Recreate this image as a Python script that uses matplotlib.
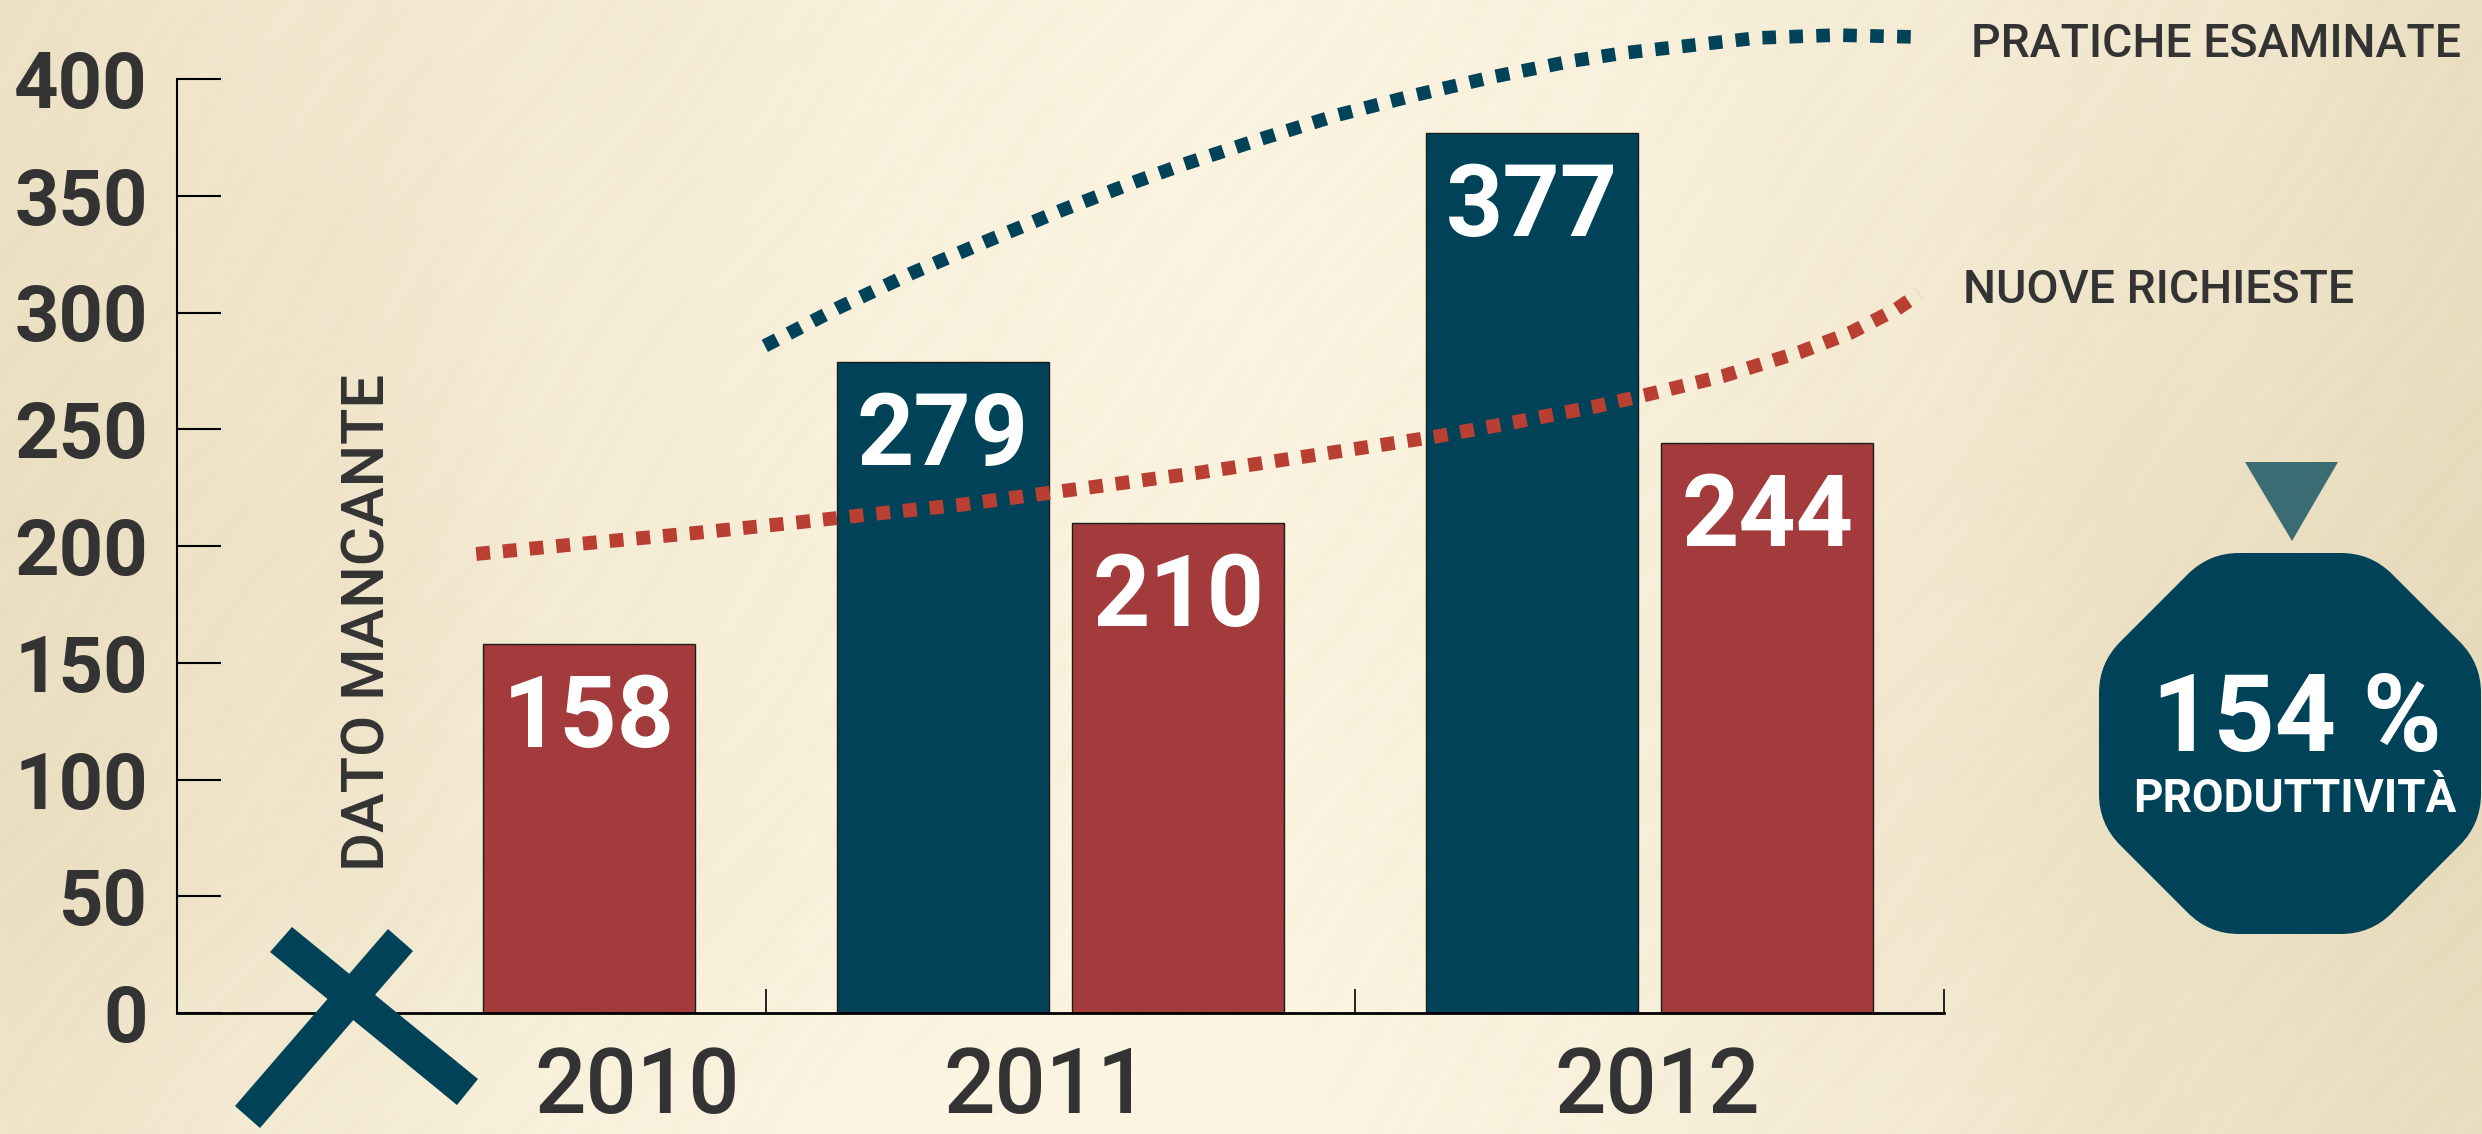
#!/usr/bin/env python
import numpy as np
import matplotlib
matplotlib.use("Agg")
import matplotlib.pyplot as plt
from matplotlib.patches import Polygon, PathPatch
from matplotlib.path import Path

# data
years = ["2010", "2011", "2012"]
esaminate_years = [1, 2]
esaminate = [279, 377]
richieste_years = [0, 1, 2]
richieste = [158, 210, 244]

# dotted trend lines, x is in year slots (0 to 3)
line_esam_x = [0.998, 1.126, 1.248, 1.375, 1.499, 1.626, 1.711, 1.840, 1.971,
               2.102, 2.234, 2.368, 2.455, 2.683, 2.817, 2.951]
line_esam_y = [285.7, 302.4, 316.9, 330.6, 343.5, 355.9, 363.6, 374.3, 384.6,
               393.1, 400.9, 407.7, 411.1, 417.6, 418.8, 418.0]
line_rich_x = [0.508, 0.700, 0.881, 1.061, 1.197, 1.329, 1.732, 2.134, 2.272,
               2.404, 2.494, 2.625, 2.756, 2.840, 2.920, 2.958]
line_rich_y = [196.6, 201.3, 205.6, 210.3, 214.1, 217.6, 231.3, 246.7, 253.1,
               259.5, 264.7, 272.8, 283.1, 291.2, 301.5, 308.0]

yticks = [0, 50, 100, 150, 200, 250, 300, 350, 400]
year_label_x = [0.781, 1.475, 2.513]

# paper tone on a coarse grid, 0 = light, 1 = dark
paper_tone = [
    [0.55, 0.40, 0.30, 0.12, 0.05, 0.10, 0.25, 0.40, 0.65],
    [0.60, 0.45, 0.25, 0.10, 0.05, 0.10, 0.30, 0.50, 0.70],
    [0.65, 0.50, 0.25, 0.12, 0.08, 0.15, 0.35, 0.60, 0.75],
    [0.65, 0.45, 0.25, 0.10, 0.05, 0.15, 0.40, 0.60, 0.75],
    [0.50, 0.30, 0.10, 0.00, 0.00, 0.10, 0.30, 0.55, 0.70],
]

BLUE = "#004359"
RED = "#A33A3C"
TEXT = "#333333"
W, H = 2482, 1134

plt.rcParams["font.family"] = ["Roboto", "DejaVu Sans"]
fig = plt.figure(figsize=(W/100, H/100), dpi=100)

# background paper
tone = np.array(paper_tone)
yy, xx = np.mgrid[0:H, 0:W]
gx = xx/(W-1)*(tone.shape[1]-1)
gy = yy/(H-1)*(tone.shape[0]-1)
ix = np.clip(gx.astype(int), 0, tone.shape[1]-2)
iy = np.clip(gy.astype(int), 0, tone.shape[0]-2)
fx = gx-ix
fy = gy-iy
fx = fx*fx*(3-2*fx)
fy = fy*fy*(3-2*fy)
t = (tone[iy, ix]*(1-fx)*(1-fy) + tone[iy, ix+1]*fx*(1-fy)
     + tone[iy+1, ix]*(1-fx)*fy + tone[iy+1, ix+1]*fx*fy)
u = xx*0.80 + yy*0.60
v = xx*0.60 - yy*0.80
t = t + 0.02*np.sin(u/4.0 + 2.5*np.sin(v/70.0)) + 0.02*np.sin(u/9.0 + 4.0*np.sin(v/190.0))
t = np.clip(t, 0, 1)[:, :, None]
light = np.array([252, 245, 226])/255.0
dark = np.array([226, 211, 176])/255.0
fig.figimage(light*(1-t) + dark*t, 0, 0, origin="upper", zorder=-1)

# main axes, bottom left at (177, 1013) and top at 400 = (79) in pixels
ax = fig.add_axes([177/W, 1-1013/H, (1944-177)/W, (1013-79)/H], facecolor="none")
bar_w = 0.36
ax.bar(np.array(esaminate_years)+0.3, esaminate, bar_w, color=BLUE, edgecolor="#1c1c1c", linewidth=1, zorder=2)
ax.bar(np.array(richieste_years)+0.7, richieste, bar_w, color=RED, edgecolor="#1c1c1c", linewidth=1, zorder=2)

for x, val in zip(esaminate_years, esaminate):
    ax.text(x+0.3, val-12, str(val), color="white", fontsize=72, fontweight="bold", ha="center", va="top", zorder=4)
for x, val in zip(richieste_years, richieste):
    ax.text(x+0.7, val-12, str(val), color="white", fontsize=72, fontweight="bold", ha="center", va="top", zorder=4)

ax.plot(line_esam_x, line_esam_y, color=BLUE, lw=9.8, dashes=(1.0, 0.98), dash_capstyle="butt", clip_on=False, zorder=3)
ax.plot(line_rich_x, line_rich_y, color="#B93F33", lw=10, dashes=(1.0, 0.93), dash_capstyle="butt", clip_on=False, zorder=3)

ax.set_xlim(0, 3)
ax.set_ylim(0, 400)
ax.spines["top"].set_visible(False)
ax.spines["right"].set_visible(False)
ax.spines["left"].set_linewidth(1.5)
ax.spines["bottom"].set_linewidth(2)
ax.set_yticks(yticks)
ax.set_xticks([1, 2, 3])
ax.set_xticklabels([])
ax.tick_params(axis="y", direction="in", length=32, width=1.5, pad=21, labelsize=56, labelcolor=TEXT)
ax.tick_params(axis="x", direction="in", length=17, width=1.2)
for lab in ax.get_yticklabels():
    lab.set_fontweight("bold")
ax.set_xticks(year_label_x, years, minor=True)
ax.tick_params(axis="x", which="minor", length=0, pad=23, labelsize=65, labelcolor=TEXT)
for lab in ax.get_xticklabels(minor=True):
    lab.set_fontweight(500)

# overlay in pixel coordinates for the annotations
over = fig.add_axes([0, 0, 1, 1], facecolor="none")
over.set_xlim(0, W)
over.set_ylim(H, 0)
over.axis("off")

over.text(368, 871, "DATO MANCANTE", rotation=90, color=TEXT, fontsize=43, fontweight=500, ha="center", va="bottom")
over.text(1971, 44, "PRATICHE ESAMINATE", color=TEXT, fontsize=33.5, fontweight=500, ha="left", va="center")
over.text(1963, 290, "NUOVE RICHIESTE", color=TEXT, fontsize=33.5, fontweight=500, ha="left", va="center")

# the cross under 2010 (missing data)
over.add_patch(Polygon([(292, 927), (270, 952), (457, 1105), (478, 1079)], color=BLUE, lw=0))
over.add_patch(Polygon([(388, 929), (413, 951), (260, 1128), (235, 1106)], color=BLUE, lw=0))

# productivity badge
over.add_patch(Polygon([(2245, 462), (2338, 462), (2292, 541)], color="#3B6C73", lw=0))
corners = [(2209, 553), (2371, 553), (2481, 663), (2481, 824), (2371, 934), (2209, 934), (2099, 824), (2099, 663)]
verts, codes = [], []
for i, c in enumerate(corners):
    c = np.array(c, dtype=float)
    prev = np.array(corners[i-1], dtype=float)
    nxt = np.array(corners[(i+1) % len(corners)], dtype=float)
    a = c + (prev-c)/np.linalg.norm(prev-c)*30
    b = c + (nxt-c)/np.linalg.norm(nxt-c)*30
    verts += [a, c, b]
    codes += [Path.MOVETO if i == 0 else Path.LINETO, Path.CURVE3, Path.CURVE3]
verts.append(verts[0])
codes.append(Path.CLOSEPOLY)
over.add_patch(PathPatch(Path(verts, codes), facecolor=BLUE, edgecolor="none"))
over.text(2297, 721, "154 %", color="white", fontsize=77, fontweight="bold", ha="center", va="center")
over.text(2295, 799, "PRODUTTIVITÀ", color="white", fontsize=33, fontweight="bold", ha="center", va="center")

fig.savefig("out.png", dpi=100)
